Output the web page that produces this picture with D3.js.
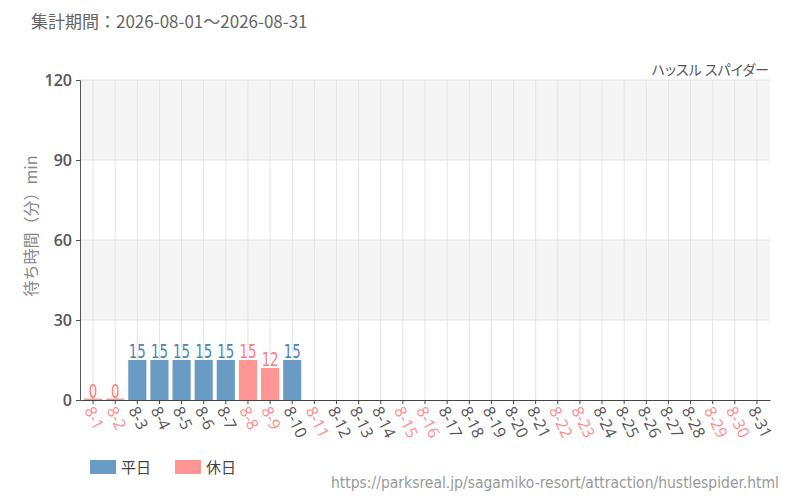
<!DOCTYPE html>
<html>
<head>
<meta charset="utf-8" />
<script src="https://d3js.org/d3.v7.min.js"></script>
<style>
    body { margin: 0; background: #fff; }
    svg { display: block; }
</style>
</head>
<body>
<svg id="chart" width="800" height="500"></svg>
<script>
    // data
    const days = ["8-1","8-2","8-3","8-4","8-5","8-6","8-7","8-8","8-9","8-10",
        "8-11","8-12","8-13","8-14","8-15","8-16","8-17","8-18","8-19","8-20",
        "8-21","8-22","8-23","8-24","8-25","8-26","8-27","8-28","8-29","8-30","8-31"];
    const waits = [0, 0, 15, 15, 15, 15, 15, 15, 12, 15,
        null, null, null, null, null, null, null, null, null, null,
        null, null, null, null, null, null, null, null, null, null, null];
    const holidays = ["8-1","8-2","8-8","8-9","8-11","8-15","8-16","8-22","8-23","8-29","8-30"];
    const yTicks = [0, 30, 60, 90, 120];
    const legendLabels = ["平日", "休日"];

    const blue = "#6a9bc4";
    const pink = "#ff9595";
    const blueText = "#4a84b8";
    const pinkText = "#ff7b7b";
    const jp = "'Noto Sans CJK JP', 'Noto Sans', sans-serif";
    const narrow = "'DejaVu Sans Condensed', 'DejaVu Sans', sans-serif";

    const margin = { top: 80, right: 30, bottom: 100, left: 80 };
    const width = 800, height = 500;
    const innerWidth = width - margin.left - margin.right;
    const innerHeight = height - margin.top - margin.bottom;

    const svg = d3.select("#chart");
    const g = svg.append("g").attr("transform", `translate(${margin.left},${margin.top})`);

    const x = d3.scaleBand().domain(days).range([0, innerWidth]).padding(0.18);
    const y = d3.scaleLinear().domain([0, 120]).range([innerHeight, 0]);

    const isHoliday = d => holidays.includes(d);

    // alternating background bands
    for (let i = 0; i < yTicks.length - 1; i++) {
        if (i % 2 === 1) {
            g.append("rect")
                .attr("x", 0).attr("width", innerWidth)
                .attr("y", y(yTicks[i + 1])).attr("height", y(yTicks[i]) - y(yTicks[i + 1]))
                .attr("fill", "#f5f5f5");
        }
    }

    // grid lines
    g.selectAll(".hgrid").data(yTicks.slice(1)).enter().append("line")
        .attr("x1", 0).attr("x2", innerWidth)
        .attr("y1", d => y(d)).attr("y2", d => y(d))
        .attr("stroke", "#e4e4e4");
    g.selectAll(".vgrid").data(days).enter().append("line")
        .attr("x1", d => x(d) + x.bandwidth() / 2).attr("x2", d => x(d) + x.bandwidth() / 2)
        .attr("y1", 0).attr("y2", innerHeight)
        .attr("stroke", "#e4e4e4");

    const data = days.map((d, i) => ({ day: d, value: waits[i] })).filter(d => d.value !== null);

    // bars
    g.selectAll(".bar").data(data).enter().append("rect")
        .attr("x", d => x(d.day))
        .attr("width", x.bandwidth())
        .attr("y", d => d.value === 0 ? y(0) - 1.5 : y(d.value))
        .attr("height", d => d.value === 0 ? 1.5 : y(0) - y(d.value))
        .attr("fill", d => isHoliday(d.day) ? pink : blue);

    // value labels (squeezed to look like the condensed face)
    g.selectAll(".val").data(data).enter().append("text")
        .attr("transform", d => `translate(${x(d.day) + x.bandwidth() / 2},${y(d.value) - 2}) scale(0.78,1)`)
        .attr("text-anchor", "middle")
        .style("font-family", narrow)
        .style("font-size", "19px")
        .attr("fill", d => isHoliday(d.day) ? pinkText : blueText)
        .text(d => d.value);

    // y axis
    const yAxis = g.append("g")
        .call(d3.axisLeft(y).tickValues(yTicks).tickSize(4).tickPadding(4));
    yAxis.select(".domain").attr("stroke", "#555");
    yAxis.selectAll(".tick line").attr("stroke", "#555");
    yAxis.selectAll("text")
        .style("font-family", "'Open Sans', sans-serif")
        .style("font-size", "16px")
        .style("font-weight", "600")
        .attr("fill", "#555");

    // x axis
    const xAxis = g.append("g")
        .attr("transform", `translate(0,${innerHeight})`)
        .call(d3.axisBottom(x).tickSize(4).tickSizeOuter(0));
    xAxis.select(".domain").attr("stroke", "#444");
    xAxis.selectAll(".tick line").attr("stroke", "#444");
    xAxis.selectAll("text")
        .style("font-family", "'Open Sans', sans-serif")
        .style("font-size", "16px")
        .attr("fill", d => isHoliday(d) ? "#ff8c8c" : "#555")
        .attr("text-anchor", "start")
        .attr("x", 0).attr("y", 0).attr("dy", 0)
        .attr("transform", "translate(-9,10) rotate(64)");

    // y label
    svg.append("text")
        .attr("transform", `translate(37,226) rotate(-90)`)
        .attr("text-anchor", "middle")
        .style("font-family", jp)
        .style("font-size", "16px")
        .attr("fill", "#888")
        .text("待ち時間（分）min");

    // title
    svg.append("text")
        .attr("x", 31).attr("y", 28)
        .style("font-family", jp)
        .style("font-size", "17px")
        .attr("fill", "#666")
        .text("集計期間：2026-08-01～2026-08-31");

    svg.append("text")
        .attr("x", 769).attr("y", 75)
        .attr("text-anchor", "end")
        .style("font-family", jp)
        .style("font-size", "14px")
        .style("font-feature-settings", "'palt'")
        .attr("fill", "#555")
        .text("ハッスル スパイダー");

    // legend
    const legend = svg.append("g").attr("transform", "translate(90,460)");
    legendLabels.forEach((label, i) => {
        const lg = legend.append("g").attr("transform", `translate(${i * 85},0)`);
        lg.append("rect").attr("width", 26).attr("height", 14).attr("fill", i === 0 ? blue : pink);
        lg.append("text")
            .attr("x", 31).attr("y", 13)
            .style("font-family", jp)
            .style("font-size", "15px")
            .attr("fill", "#444")
            .text(label);
    });

    svg.append("text")
        .attr("x", 779).attr("y", 488)
        .attr("text-anchor", "end")
        .style("font-family", narrow)
        .style("font-size", "15.5px")
        .attr("fill", "#999")
        .text("https://parksreal.jp/sagamiko-resort/attraction/hustlespider.html");
</script>
</body>
</html>
